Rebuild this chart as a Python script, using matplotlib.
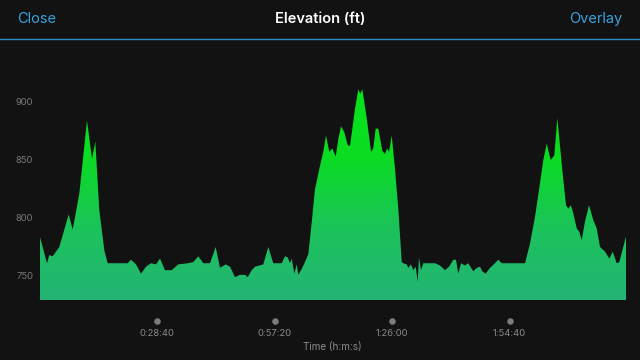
import numpy as np
import matplotlib
matplotlib.use("Agg")
import matplotlib.pyplot as plt
from matplotlib.colors import LinearSegmentedColormap
from matplotlib.lines import Line2D
import matplotlib.transforms as mtransforms

plt.rcParams['font.family'] = ['Inter', 'DejaVu Sans']

# ---- data (time in seconds, elevation in ft) ----
time_s = [0, 110, 143, 193, 290, 427, 486, 583, 695, 769, 817, 875, 949, 998,
          1291, 1339, 1413, 1486, 1559, 1632, 1705, 1764, 1837, 1935, 2032, 2178,
          2251, 2325, 2398, 2496, 2579, 2642, 2726, 2789, 2862, 2935, 3008, 3048,
          3106, 3155, 3276, 3349, 3422, 3545, 3594, 3633, 3667, 3692, 3730, 3765,
          3788, 3838, 3886, 3935, 3984, 4033, 4106, 4154, 4194, 4242, 4286, 4336,
          4374, 4413, 4462, 4511, 4545, 4618, 4667, 4696, 4725, 4790, 4853, 4886,
          4921, 4959, 5018, 5057, 5087, 5116, 5156, 5204, 5252, 5302, 5325, 5375,
          5399, 5438, 5472, 5507, 5536, 5555, 5584, 5618, 5789, 5863, 5936, 5994,
          6057, 6097, 6130, 6170, 6228, 6277, 6350, 6400, 6448, 6482, 6531, 6594,
          6668, 6716, 6766, 7107, 7180, 7253, 7326, 7375, 7424, 7483, 7536, 7580,
          7629, 7667, 7707, 7741, 7776, 7814, 7864, 7902, 7937, 7985, 8044, 8107,
          8156, 8205, 8278, 8341, 8391, 8449, 8487, 8585]
elev_ft = [785, 761, 768, 767, 775, 803, 790, 821, 884, 851, 866, 807, 772, 761,
           761, 764, 760, 752, 758, 761, 760, 765, 755, 755, 760, 761,
           762, 767, 761, 761, 775, 757, 760, 758, 749, 751, 751, 749,
           755, 758, 760, 775, 761, 761, 767, 766, 761, 765, 752, 760,
           751, 756, 762, 769, 796, 825, 845, 857, 871, 857, 860, 853,
           868, 879, 874, 863, 862, 894, 911, 907, 911, 886, 857, 860,
           877, 877, 858, 855, 860, 857, 871, 842, 808, 762, 761, 760,
           757, 760, 755, 758, 745, 766, 755, 761, 761, 759, 755, 758,
           764, 764, 752, 761, 759, 761, 754, 757, 758, 754, 752, 757,
           761, 764, 761, 761, 778, 801, 830, 850, 864, 850, 854, 886,
           856, 833, 811, 808, 811, 804, 791, 788, 781, 797, 811, 798,
           791, 775, 771, 765, 771, 761, 762, 784]

y_ticks = [750, 800, 850, 900]
x_tick_secs = [1720, 3440, 5160, 6880]
x_tick_labels = ["0:28:40", "0:57:20", "1:26:00", "1:54:40"]

# ---- figure ----
W, H = 640, 360
BG = "#121212"
fig = plt.figure(figsize=(W / 100, H / 100), dpi=100, facecolor=BG)

# header
fig.text(17 / W, 1 - 19 / H, "Close", color="#3aa2dc", fontsize=10.5,
         ha="left", va="center")
fig.text(320 / W, 1 - 19 / H, "Elevation (ft)", color="#ffffff", fontsize=10.5,
         ha="center", va="center", fontweight="semibold")
fig.text(622 / W, 1 - 19 / H, "Overlay", color="#3aa2dc", fontsize=10.5,
         ha="right", va="center")
fig.add_artist(Line2D([0, 1], [1 - 38.5 / H, 1 - 38.5 / H], transform=fig.transFigure,
                      color="#2f8cc0", linewidth=1.0))

# axes
left, right = 39.5 / W, 626 / W
bottom, top = 60 / H, 1 - 45 / H
ax = fig.add_axes([left, bottom, right - left, top - bottom])
ax.set_facecolor(BG)
ymin, ymax = 729.3, 949.1
ax.set_xlim(0, 8585)
ax.set_ylim(ymin, ymax)
for s in ax.spines.values():
    s.set_visible(False)

# gradient fill
poly = ax.fill_between(time_s, elev_ft, ymin, facecolor="none", edgecolor="none")
cmap = LinearSegmentedColormap.from_list("g", ["#24b476", "#1bc35a", "#0bdc22", "#06e41a"])
grad = np.linspace(0, 1, 256).reshape(-1, 1)
im = ax.imshow(grad, aspect="auto", cmap=cmap, origin="lower",
               extent=[0, 8585, ymin, 915], interpolation="bilinear", zorder=2)
im.set_clip_path(poly.get_paths()[0], transform=ax.transData)
ax.set_ylim(ymin, ymax)

# y ticks
ax.set_yticks(y_ticks)
ax.set_yticklabels([str(v) for v in y_ticks], color="#7a7a7a", fontsize=6.8)
ax.tick_params(axis="y", length=0, pad=4.6)

# x ticks
ax.set_xticks(x_tick_secs)
ax.set_xticklabels(x_tick_labels, color="#8a8a8a", fontsize=6.8)
ax.tick_params(axis="x", length=0, pad=20.7)
trans = mtransforms.blended_transform_factory(ax.transData, ax.transAxes)
ax.scatter(x_tick_secs, [-20.7 / (H * (top - bottom))] * len(x_tick_secs), s=22,
           color="#7c7c7c", transform=trans, clip_on=False, zorder=3, linewidths=0)
ax.set_xlabel("Time (h:m:s)", color="#8a8a8a", fontsize=7.2, labelpad=3)

fig.savefig("out.png", dpi=100, facecolor=BG)
